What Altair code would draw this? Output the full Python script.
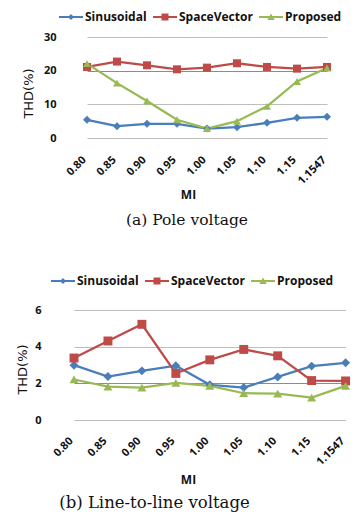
import altair as alt
import pandas as pd

mi = ["0.80", "0.85", "0.90", "0.95", "1.00", "1.05", "1.10", "1.15", "1.1547"]
series = ["Sinusoidal", "SpaceVector", "Proposed"]
colors = ["#4A7EBB", "#BE4B48", "#98B954"]

pole_sin = [5.4, 3.5, 4.2, 4.2, 2.8, 3.2, 4.5, 6.0, 6.3]
pole_sv = [21.1, 22.7, 21.6, 20.4, 20.9, 22.2, 21.1, 20.6, 21.1]
pole_prop = [22.1, 16.3, 11.0, 5.4, 2.8, 5.0, 9.4, 16.8, 20.8]

ll_sin = [2.99, 2.37, 2.68, 2.96, 1.92, 1.77, 2.35, 2.94, 3.12]
ll_sv = [3.38, 4.31, 5.22, 2.54, 3.28, 3.85, 3.50, 2.15, 2.13]
ll_prop = [2.21, 1.82, 1.77, 2.03, 1.86, 1.46, 1.44, 1.22, 1.86]

pole_ticks = [0, 10, 20, 30]
ll_ticks = [0, 2, 4, 6]

marker_shapes = ["diamond", "square", "triangle-up"]
# legend glyphs: a 24px line with the marker in its middle (unit = 6px)
legend_shapes = [
    "M-1,-0.17H3V0.17H-1ZM1,-0.5L1.5,0L1,0.5L0.5,0Z",
    "M-1,-0.17H3V0.17H-1ZM0.42,-0.58H1.58V0.58H0.42Z",
    "M-1,-0.17H3V0.17H-1ZM1,-0.6L1.62,0.5H0.38Z",
]


def make_df(a, b, c):
    rows = []
    for name, vals in zip(series, [a, b, c]):
        for m, v in zip(mi, vals):
            rows.append({"MI": m, "Series": name, "THD": v})
    return pd.DataFrame(rows)


def panel(df, ticks, dark, width, height, rng, lab_pad, lab_off,
          ytx, yty, xtx, xty, leg_x, leg_y, caption, cap_dx, cap_off,
          cap_size, msize):
    x = alt.X("MI:N", sort=mi,
              scale=alt.Scale(type="point", range=rng, padding=0),
              axis=alt.Axis(title="MI", labelAngle=-45, labelAlign="right",
                            labelBaseline="middle", labelPadding=lab_pad,
                            labelOffset=lab_off, titleX=xtx, titleY=xty,
                            titleBaseline="middle", titleAlign="center"))
    y = alt.Y("THD:Q", scale=alt.Scale(domain=[ticks[0], ticks[-1]], nice=False),
              axis=alt.Axis(title="THD(%)", values=ticks, grid=True,
                            gridColor=alt.condition(alt.datum.value == dark,
                                                    alt.value("#8c8c8c"),
                                                    alt.value("#bdbdbd")),
                            labelPadding=16, titleX=ytx, titleY=yty,
                            titleBaseline="middle", titleAlign="center",
                            titleFont="DejaVu Sans", titleFontSize=13,
                            titleFontWeight="normal"))
    base = alt.Chart(df).encode(x=x, y=y)
    layers = []
    for name, c in zip(series, colors):
        layers.append(base.transform_filter(alt.datum.Series == name).mark_line(
            strokeWidth=2.25, color=c))
    for name, c, shp in zip(series, colors, marker_shapes):
        layers.append(base.transform_filter(alt.datum.Series == name).mark_point(
            filled=True, opacity=1, size=msize, shape=shp, color=c))
    leg = alt.Legend(orient="none", legendX=leg_x, legendY=leg_y,
                     direction="horizontal", title=None,
                     labelFont="Open Sans", labelFontSize=12,
                     labelFontWeight="bold", labelColor="#111",
                     symbolSize=144, symbolStrokeWidth=0, symbolOpacity=1,
                     labelOffset=14, columnPadding=6, padding=0)
    legend_layer = base.mark_point(filled=True, opacity=0).encode(
        color=alt.Color("Series:N", scale=alt.Scale(domain=series, range=colors),
                        legend=leg),
        shape=alt.Shape("Series:N",
                        scale=alt.Scale(domain=series, range=legend_shapes),
                        legend=leg),
    )
    layers.append(legend_layer)
    return alt.layer(*layers).properties(
        width=width, height=height,
        title=alt.TitleParams(text=caption, orient="bottom", anchor="middle",
                              font="DejaVu Serif", fontSize=cap_size,
                              fontWeight="normal", color="#111",
                              dx=cap_dx, offset=cap_off))


top = panel(make_df(pole_sin, pole_sv, pole_prop), pole_ticks, 20, 272, 101,
            [15, 255], 20, -3, -44, 56, 116, 56, -13, -26,
            "(a) Pole voltage", -21, 13, 15.5, 64)
bottom = panel(make_df(ll_sin, ll_sv, ll_prop), ll_ticks, 2, 297, 110,
               [17, 288.6], 19, -3, -35, 59, 131, 59, -6, -35,
               "(b) Line-to-line voltage", -51, 10, 16.5, 80)


def spacer(w):
    return alt.Chart(pd.DataFrame({"a": [0]})).mark_point(opacity=0).properties(
        width=w, height=1)


row1 = alt.hconcat(spacer(10), top, spacing=0).resolve_scale(
    color="independent", shape="independent")
row2 = alt.hconcat(spacer(1), bottom, spacing=0).resolve_scale(
    color="independent", shape="independent")

chart = alt.vconcat(row1, row2, spacing=46).resolve_scale(
    color="independent", shape="independent").configure(
    padding={"top": 3, "left": 0, "right": 0, "bottom": 0},
    background="white").configure_view(stroke=None).configure_axis(
    domain=False, ticks=False, labelFont="Open Sans", labelFontSize=11,
    labelFontWeight="bold", labelColor="#111", titleFont="Open Sans",
    titleFontSize=12, titleFontWeight="bold", titleColor="#111")

chart.save("out.html", embed_options={"renderer": "svg", "actions": False})
